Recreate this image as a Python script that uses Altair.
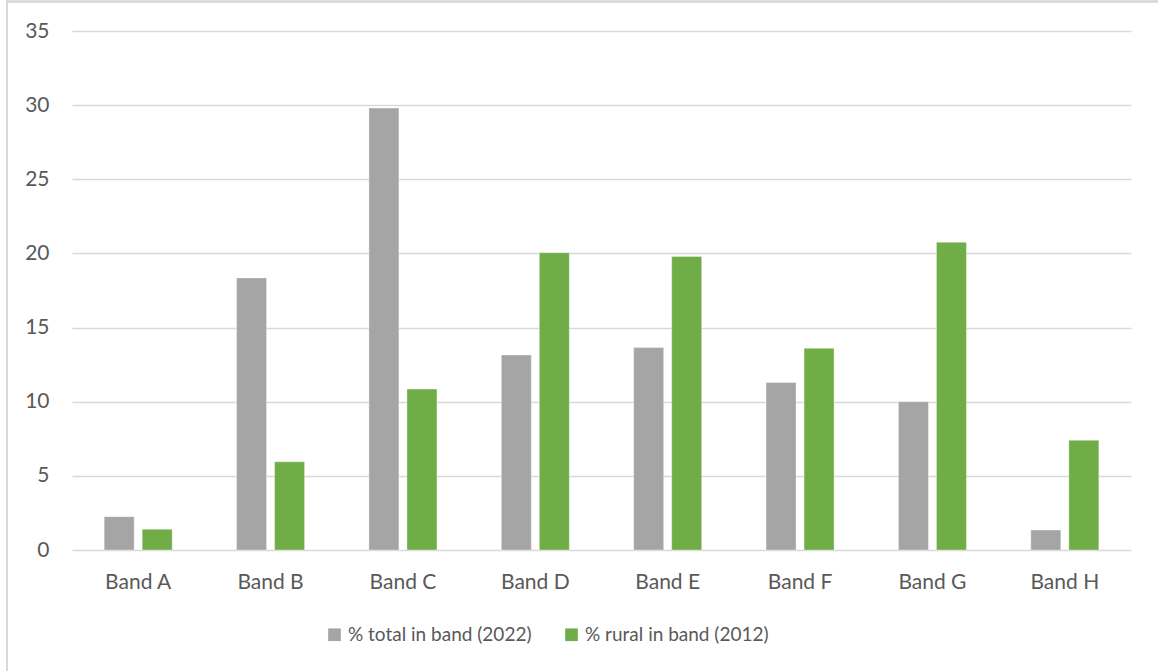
import altair as alt
import pandas as pd

bands = ["Band A", "Band B", "Band C", "Band D", "Band E", "Band F", "Band G", "Band H"]
total_2022 = [2.25, 18.35, 29.8, 13.15, 13.65, 11.3, 10.0, 1.35]
rural_2012 = [1.4, 5.95, 10.85, 20.05, 19.8, 13.6, 20.75, 7.4]
series = ["% total in band (2022)", "% rural in band (2012)"]
colors = ["#a5a5a5", "#70ad47"]
y_ticks = [0, 5, 10, 15, 20, 25, 30, 35]

rows = []
for b, t, r in zip(bands, total_2022, rural_2012):
    rows.append({"band": b, "series": series[0], "value": t})
    rows.append({"band": b, "series": series[1], "value": r})
df = pd.DataFrame(rows)

FONT = "Lato"
TXT = "#595959"

bars = alt.Chart(df).mark_bar(stroke="#ffffff", strokeWidth=0.6, strokeOpacity=0.6).encode(
    x=alt.X("band:N", sort=bands, title=None,
            scale=alt.Scale(paddingInner=0.4, paddingOuter=0.2),
            axis=alt.Axis(labelAngle=0, labelFont=FONT, labelFontSize=21, labelColor=TXT,
                          labelPadding=21, ticks=False, domain=False, grid=False)),
    xOffset=alt.XOffset("series:N", sort=series,
                        scale=alt.Scale(paddingInner=0.2105, paddingOuter=0.15)),
    y=alt.Y("value:Q", title=None,
            scale=alt.Scale(domain=[0, 35], nice=False),
            axis=alt.Axis(values=y_ticks, labelFont=FONT, labelFontSize=21, labelColor=TXT,
                          labelPadding=23, ticks=False, domain=False, grid=True,
                          gridColor="#d9d9d9", gridWidth=1.4)),
    color=alt.Color("series:N", sort=series,
                    scale=alt.Scale(domain=series, range=colors),
                    legend=alt.Legend(title=None, orient="none", direction="horizontal",
                                      legendX=253, legendY=594, symbolType="square",
                                      symbolSize=160, symbolStrokeWidth=0, symbolOffset=0,
                                      labelOffset=4, columnPadding=30, padding=0,
                                      labelFont=FONT, labelFontSize=19, labelColor=TXT,
                                      labelLimit=400)),
)

border_left = alt.Chart(df).mark_rule(color="#d9d9d9", strokeWidth=1.5).encode(
    x=alt.value(-65), y=alt.value(-31), y2=alt.value(700))
border_top = alt.Chart(df).mark_rule(color="#d9d9d9", strokeWidth=1.5).encode(
    x=alt.value(-65), x2=alt.value(1200), y=alt.value(-29.5))

chart = alt.layer(bars, border_left, border_top).properties(
    width=1059, height=519,
    padding={"left": 72, "top": 31, "right": 27, "bottom": 121},
    autosize=alt.AutoSizeParams(type="none"),
    background="#ffffff",
).configure_view(stroke=None)

chart.save("out.html", embed_options={"renderer": "svg", "actions": False})
